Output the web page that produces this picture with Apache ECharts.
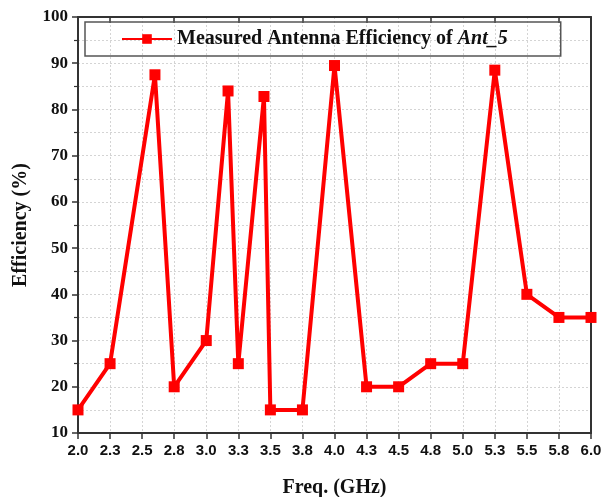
<!DOCTYPE html>
<html>
<head>
<meta charset="utf-8">
<script src="https://cdn.jsdelivr.net/npm/echarts@6/dist/echarts.min.js"></script>
<style>html,body{margin:0;padding:0;background:#fff;}#c{width:604px;height:497px;}</style>
</head>
<body>
<div id="c"></div>
<script>
var freq = [2.0, 2.25, 2.6, 2.75, 3.0, 3.17, 3.25, 3.45, 3.5, 3.75, 4.0, 4.25, 4.5, 4.75, 5.0, 5.25, 5.5, 5.75, 6.0];
var efficiency = [15, 25, 87.5, 20, 30, 84, 25, 82.8, 15, 15, 89.5, 20, 20, 25, 25, 88.5, 40, 35, 35];
var xTickLabels = ['2.0','2.3','2.5','2.8','3.0','3.3','3.5','3.8','4.0','4.3','4.5','4.8','5.0','5.3','5.5','5.8','6.0'];
var topTicks = [2.25, 2.75, 3.25, 3.75, 4.25, 4.75, 5.25, 5.75];
var seriesName = 'Measured Antenna Efficiency of Ant_5';

var data = freq.map(function (f, i) { return [f, efficiency[i]]; });
var chart = echarts.init(document.getElementById('c'));
var serif = '"Liberation Serif", "Times New Roman", serif';
var sans = '"Liberation Sans", Arial, sans-serif';
var axisCol = '#333';
var gridLine = { show: true, lineStyle: { color: '#d4d4d4', type: [2, 2], width: 1 } };

chart.setOption({
  animation: false,
  backgroundColor: '#fff',
  grid: { left: 78, right: 13, top: 17, bottom: 64, outerBoundsMode: 'none', containLabel: false },
  legend: {
    left: 85, top: 22,
    padding: [7, 53, 7, 36],
    borderColor: '#555', borderWidth: 1.5,
    itemWidth: 50, itemHeight: 12, itemGap: 7,
    data: [seriesName],
    formatter: function () { return '{b|Measured Antenna Efficiency of }{i|Ant_5}'; },
    textStyle: {
      rich: {
        b: { fontFamily: serif, fontWeight: 'bold', fontSize: 20, color: '#111' },
        i: { fontFamily: serif, fontWeight: 'bold', fontStyle: 'italic', fontSize: 20, color: '#111' }
      }
    }
  },
  xAxis: [{
    type: 'value', min: 2, max: 6, interval: 0.25,
    name: 'Freq. (GHz)', nameLocation: 'middle', nameGap: 45,
    nameTextStyle: { fontFamily: serif, fontWeight: 'bold', fontSize: 20, color: '#111' },
    axisLine: { show: true, onZero: false, lineStyle: { color: axisCol, width: 2 } },
    axisTick: { show: true, length: 6, lineStyle: { color: axisCol, width: 1.5 } },
    axisLabel: {
      margin: 10, fontFamily: sans, fontWeight: 'bold', fontSize: 15, color: '#111',
      formatter: function (v) { return xTickLabels[Math.round((v - 2) / 0.25)]; }
    },
    splitLine: gridLine
  }, {
    type: 'value', position: 'top', min: 2, max: 6,
    axisLine: { show: true, onZero: false, lineStyle: { color: axisCol, width: 2 } },
    axisTick: { show: true, inside: true, length: 6, customValues: topTicks, lineStyle: { color: axisCol, width: 1.5 } },
    axisLabel: { show: false },
    splitLine: { show: false }
  }],
  yAxis: [{
    type: 'value', min: 10, max: 100, interval: 10,
    name: 'Efficiency (%)', nameLocation: 'middle', nameGap: 47,
    nameTextStyle: { fontFamily: serif, fontWeight: 'bold', fontSize: 20, color: '#111' },
    axisLine: { show: true, onZero: false, lineStyle: { color: axisCol, width: 2 } },
    axisTick: { show: true, length: 6, lineStyle: { color: axisCol, width: 1.5 } },
    minorTick: { show: true, splitNumber: 2, length: 4, lineStyle: { color: axisCol, width: 1.2 } },
    axisLabel: { margin: 10, fontFamily: serif, fontWeight: 'bold', fontSize: 17, color: '#111' },
    splitLine: gridLine,
    minorSplitLine: gridLine
  }, {
    type: 'value', position: 'right', min: 10, max: 100,
    axisLine: { show: true, onZero: false, lineStyle: { color: axisCol, width: 2 } },
    axisTick: { show: false }, axisLabel: { show: false }, splitLine: { show: false }
  }],
  series: [{
    name: seriesName,
    type: 'line',
    data: data,
    symbol: 'rect', symbolSize: 11,
    lineStyle: { color: '#ff0000', width: 4 },
    itemStyle: { color: '#ff0000' }
  }]
});
</script>
</body>
</html>
